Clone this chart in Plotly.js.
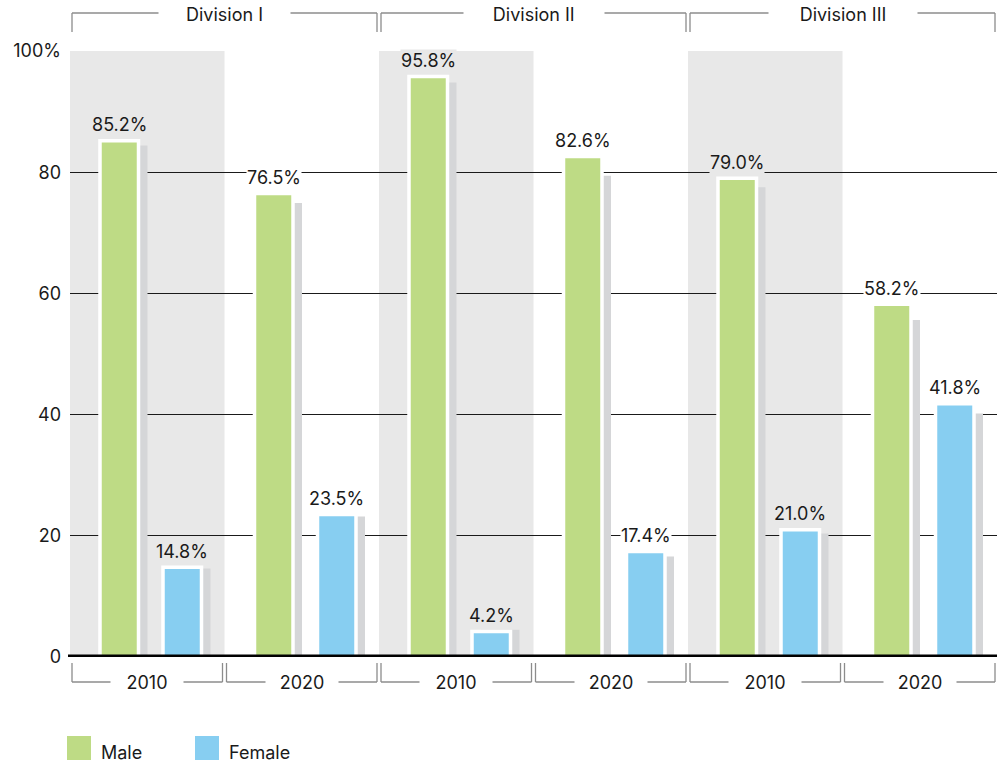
<!DOCTYPE html>
<html>
<head>
<meta charset="utf-8">
<script src="https://cdn.plot.ly/plotly-3.0.1.min.js"></script>
<style>html,body{margin:0;padding:0;background:#fff;}#chart{width:1002px;height:767px;}</style>
</head>
<body>
<div id="chart"></div>
<script>
// ---- data ----
const divisions = ['Division I', 'Division II', 'Division III'];
const years = ['2010', '2020'];
const categories = divisions.flatMap(d => years.map(y => d + ' ' + y));
const seriesNames = ['Male', 'Female'];
const male = [85.2, 76.5, 95.8, 82.6, 79.0, 58.2];
const female = [14.8, 23.5, 4.2, 17.4, 21.0, 41.8];
const maleShadow = [84.4, 74.9, 94.8, 79.4, 77.5, 55.6];
const femaleShadow = [14.6, 23.2, 4.5, 16.6, 20.4, 40.2];
const yTickVals = [0, 20, 40, 60, 80, 100];
const yTickText = ['0', '20', '40', '60', '80', '100%'];

// ---- style ----
const W = 1002, H = 767;
const M = {l: 70, r: 5, t: 51, b: 110};
const plotW = W - M.l - M.r, plotH = H - M.t - M.b;
const px = x => (x - M.l) / plotW;          // pixel -> paper x
const py = y => (H - M.b - y) / plotH;      // pixel -> paper y
const unit = plotW / categories.length;     // px per category
const u = p => p / unit;                    // px -> category units

const GREEN = '#bedb85', BLUE = '#87cef1', BAND = '#e8e8e8', SHADOW = '#d5d6d8';
const TEXT = '#1a1a1a', BRACKET = '#8c8c8c';
const FONT = 'Inter, "Liberation Sans", Arial, sans-serif';
const barW = u(38.5);
const maleCenter = u(-28), femaleCenter = u(35), shadowShift = u(9);

function shadowTrace(vals, center) {
  return {type: 'bar', x: categories, y: vals, width: barW, offset: center - barW / 2 + shadowShift,
    marker: {color: SHADOW, line: {width: 0}}, hoverinfo: 'skip', showlegend: false};
}
function barTrace(vals, center, color, name) {
  return {type: 'bar', name: name, x: categories, y: vals, width: barW, offset: center - barW / 2,
    marker: {color: color, line: {color: '#ffffff', width: 3.5}}, showlegend: false};
}
const traces = [
  shadowTrace(maleShadow, maleCenter),
  shadowTrace(femaleShadow, femaleCenter),
  barTrace(male, maleCenter, GREEN, seriesNames[0]),
  barTrace(female, femaleCenter, BLUE, seriesNames[1])
];

const shapes = [];
const annotations = [];

// grey bands on 2010 groups
categories.forEach((c, i) => {
  if (i % 2 === 0) shapes.push({type: 'rect', xref: 'x', yref: 'y', x0: i - 0.5, x1: i + 0.5, y0: 0, y1: 100,
    fillcolor: BAND, line: {width: 0}, layer: 'below'});
});
// baseline
shapes.push({type: 'line', xref: 'paper', yref: 'y', x0: px(68), x1: 1, y0: 0, y1: 0,
  line: {color: '#000', width: 5}, layer: 'above'});

// bottom brackets (years)
const bIn = u(2);
categories.forEach((c, i) => {
  const x0 = i - 0.5 + bIn, x1 = i + 0.5 - bIn;
  const yTop = py(663), yBot = py(682);
  shapes.push({type: 'line', xref: 'x', yref: 'paper', x0: x0, x1: x0, y0: yTop, y1: yBot, line: {color: BRACKET, width: 1.3}});
  shapes.push({type: 'line', xref: 'x', yref: 'paper', x0: x1, x1: x1, y0: yTop, y1: yBot, line: {color: BRACKET, width: 1.3}});
  shapes.push({type: 'line', xref: 'x', yref: 'paper', x0: x0, x1: x1, y0: yBot, y1: yBot, line: {color: BRACKET, width: 1.3}});
  annotations.push({xref: 'x', yref: 'paper', x: i, y: py(682), text: years[i % 2], showarrow: false,
    font: {family: FONT, size: 18, color: TEXT}, bgcolor: '#ffffff', width: 70, height: 22, xanchor: 'center', yanchor: 'middle'});
});

// top brackets (divisions)
const tIn = u(2);
divisions.forEach((d, k) => {
  const x0 = 2 * k - 0.5 + tIn, x1 = 2 * k + 1.5 - tIn;
  const yTop = py(13), yBot = py(32);
  shapes.push({type: 'line', xref: 'x', yref: 'paper', x0: x0, x1: x0, y0: yTop, y1: yBot, line: {color: BRACKET, width: 1.3}});
  shapes.push({type: 'line', xref: 'x', yref: 'paper', x0: x1, x1: x1, y0: yTop, y1: yBot, line: {color: BRACKET, width: 1.3}});
  shapes.push({type: 'line', xref: 'x', yref: 'paper', x0: x0, x1: x1, y0: yTop, y1: yTop, line: {color: BRACKET, width: 1.3}});
  annotations.push({xref: 'x', yref: 'paper', x: 2 * k + 0.5, y: py(14), text: d, showarrow: false,
    font: {family: FONT, size: 18, color: TEXT}, bgcolor: '#ffffff', width: d.length * 8.5 + 44, height: 22,
    xanchor: 'center', yanchor: 'middle'});
});

// value labels
function addLabels(vals, centerUnits) {
  vals.forEach((v, i) => {
    annotations.push({xref: 'x', yref: 'y', x: categories[i], y: v, text: v.toFixed(1) + '%', showarrow: false,
      xshift: centerUnits * unit, yshift: 16, xanchor: 'center', yanchor: 'middle',
      font: {family: FONT, size: 18, color: TEXT}, bgcolor: i % 2 === 0 ? BAND : '#ffffff', borderpad: 0});
  });
}
addLabels(male, maleCenter);
addLabels(female, femaleCenter);

// legend
const legendItems = [{name: seriesNames[0], color: GREEN, x: 67}, {name: seriesNames[1], color: BLUE, x: 195}];
legendItems.forEach(it => {
  shapes.push({type: 'rect', xref: 'paper', yref: 'paper', x0: px(it.x), x1: px(it.x + 24), y0: py(736), y1: py(760),
    fillcolor: it.color, line: {width: 0}});
  annotations.push({xref: 'paper', yref: 'paper', x: px(it.x + 32), y: py(752), text: it.name, showarrow: false,
    xanchor: 'left', yanchor: 'middle', font: {family: FONT, size: 18, color: TEXT}});
});

const layout = {
  width: W, height: H,
  margin: M,
  paper_bgcolor: '#ffffff', plot_bgcolor: '#ffffff',
  barmode: 'overlay',
  showlegend: false,
  font: {family: FONT, size: 18, color: TEXT},
  xaxis: {type: 'category', range: [-0.5, categories.length - 0.5], showticklabels: false, showgrid: false,
    zeroline: false, showline: false, ticks: '', fixedrange: true},
  yaxis: {range: [0, 100], tickvals: yTickVals, ticktext: yTickText, showgrid: true, gridcolor: '#1a1a1a',
    gridwidth: 1, zeroline: false, showline: false, ticks: '', ticklabelstandoff: 8,
    tickfont: {family: FONT, size: 18, color: TEXT}, fixedrange: true},
  shapes: shapes,
  annotations: annotations
};

Plotly.newPlot('chart', traces, layout, {displayModeBar: false, staticPlot: true});
</script>
</body>
</html>
